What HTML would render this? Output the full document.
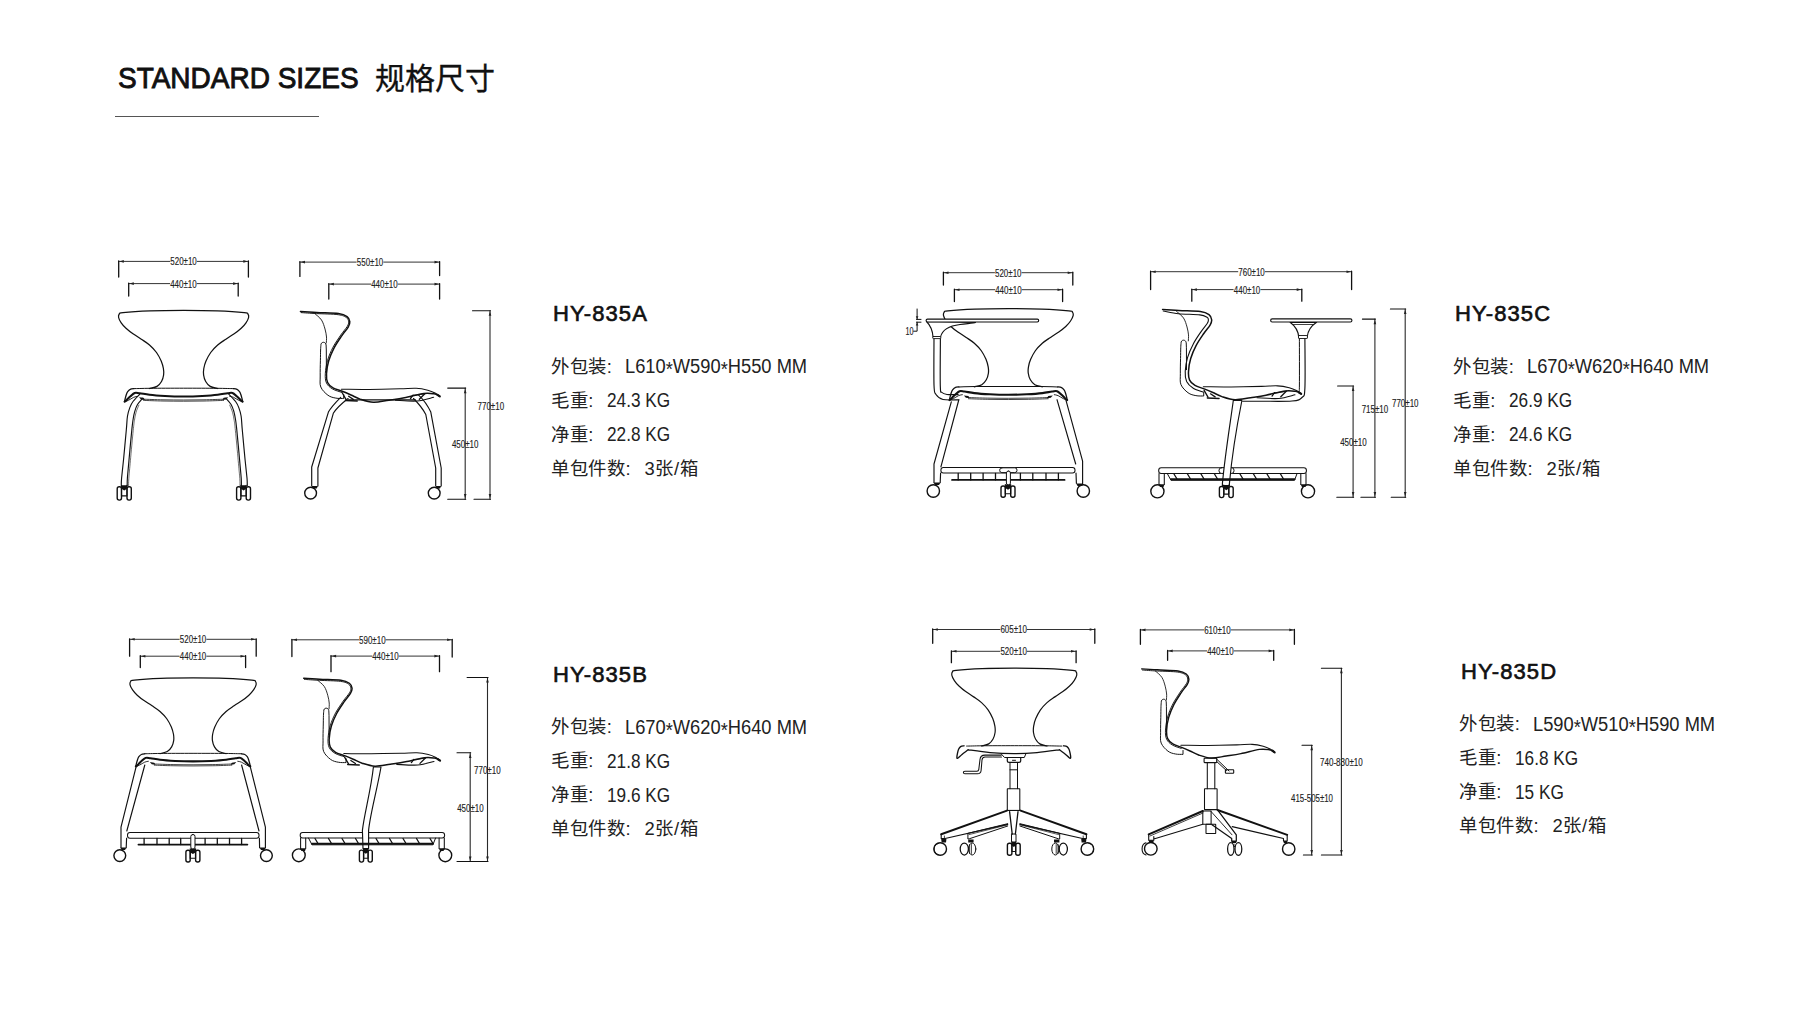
<!DOCTYPE html>
<html lang="zh-CN"><head><meta charset="utf-8">
<style>
html,body{margin:0;padding:0;background:#fff;}
body{width:1800px;height:1013px;position:relative;overflow:hidden;font-family:"Liberation Sans",sans-serif;color:#222;}
.t{position:absolute;white-space:nowrap;line-height:1;}
.blk{position:absolute;width:400px;height:200px;}
.blk .h{position:absolute;left:2px;top:1.2px;font-size:22px;color:#111;letter-spacing:1.1px;-webkit-text-stroke:0.65px #111}
.v{font-size:20px !important;letter-spacing:0 !important;margin-top:0 !important;transform:scaleX(0.915);transform-origin:0 0}
.kg{font-size:20px !important;letter-spacing:0 !important;margin-top:0 !important;transform:scaleX(0.86);transform-origin:0 0}
.ast{position:relative;top:3.2px}
.blk .l{position:absolute;left:0;font-size:18.4px;letter-spacing:0.6px;white-space:nowrap;line-height:1;margin-top:1.7px}
svg{position:absolute;left:0;top:0;}
.dt{font-family:"Liberation Sans",sans-serif;font-size:10.8px;fill:#222;stroke:#222;stroke-width:0.15px;}
</style></head><body>
<div class="t" style="left:118px;top:63.3px;font-size:29.6px;color:#111;-webkit-text-stroke:0.9px #111;transform:scaleX(0.946);transform-origin:0 0">STANDARD SIZES</div>
<div class="t" style="left:375px;top:64.3px;font-size:30px;color:#111;-webkit-text-stroke:0.3px #111">规格尺寸</div>
<div style="position:absolute;left:115px;top:116px;width:204px;height:1px;background:#555"></div>
<div class="blk" style="left:551px;top:300px">
<div class="h">HY-835A</div>
<div class="l" style="top:56.3px">外包装:</div><div class="l v" style="top:56px;left:74.4px">L610<span class="ast">*</span>W590<span class="ast">*</span>H550 MM</div>
<div class="l" style="top:90.3px">毛重:</div><div class="l kg" style="top:90px;left:56px">24.3 KG</div>
<div class="l" style="top:124.3px">净重:</div><div class="l kg" style="top:124px;left:56px">22.8 KG</div>
<div class="l" style="top:158.3px">单包件数:</div><div class="l " style="top:158.3px;left:93.5px">3张/箱</div>
</div>
<div class="blk" style="left:551px;top:660.5px">
<div class="h">HY-835B</div>
<div class="l" style="top:56.3px">外包装:</div><div class="l v" style="top:56px;left:74.4px">L670<span class="ast">*</span>W620<span class="ast">*</span>H640 MM</div>
<div class="l" style="top:90.3px">毛重:</div><div class="l kg" style="top:90px;left:56px">21.8 KG</div>
<div class="l" style="top:124.3px">净重:</div><div class="l kg" style="top:124px;left:56px">19.6 KG</div>
<div class="l" style="top:158.3px">单包件数:</div><div class="l " style="top:158.3px;left:93.5px">2张/箱</div>
</div>
<div class="blk" style="left:1453px;top:300px">
<div class="h">HY-835C</div>
<div class="l" style="top:56.3px">外包装:</div><div class="l v" style="top:56px;left:74.4px">L670<span class="ast">*</span>W620<span class="ast">*</span>H640 MM</div>
<div class="l" style="top:90.3px">毛重:</div><div class="l kg" style="top:90px;left:56px">26.9 KG</div>
<div class="l" style="top:124.3px">净重:</div><div class="l kg" style="top:124px;left:56px">24.6 KG</div>
<div class="l" style="top:158.3px">单包件数:</div><div class="l " style="top:158.3px;left:93.5px">2张/箱</div>
</div>
<div class="blk" style="left:1459px;top:657.5px">
<div class="h">HY-835D</div>
<div class="l" style="top:56.3px">外包装:</div><div class="l v" style="top:56px;left:74.4px">L590<span class="ast">*</span>W510<span class="ast">*</span>H590 MM</div>
<div class="l" style="top:90.3px">毛重:</div><div class="l kg" style="top:90px;left:56px">16.8 KG</div>
<div class="l" style="top:124.3px">净重:</div><div class="l kg" style="top:124px;left:56px">15 KG</div>
<div class="l" style="top:158.3px">单包件数:</div><div class="l " style="top:158.3px;left:93.5px">2张/箱</div>
</div>
<svg width="1800" height="1013" viewBox="0 0 1800 1013" fill="none" stroke="#111" stroke-linecap="round" stroke-linejoin="round">
<path d="M118.7 261.4L169.8 261.4M197.3 261.4L248.4 261.4" stroke-width="1" stroke="#333"/>
<path d="M118.7 260.9L118.7 277M248.4 260.9L248.4 277" stroke-width="1.3"/>
<path d="M119.3 261.4L123.8 260.1L123.8 262.7Z" fill="#222" stroke="none"/>
<path d="M247.8 261.4L243.3 262.7L243.3 260.1Z" fill="#222" stroke="none"/>
<text x="170.3" y="265.3" textLength="26.5" lengthAdjust="spacingAndGlyphs" class="dt">520±10</text>
<path d="M128.7 283.6L169.7 283.6M197.2 283.6L238.2 283.6" stroke-width="1" stroke="#333"/>
<path d="M128.7 283.1L128.7 296M238.2 283.1L238.2 296" stroke-width="1.3"/>
<path d="M129.3 283.6L133.8 282.3L133.8 284.9Z" fill="#222" stroke="none"/>
<path d="M237.6 283.6L233.1 284.9L233.1 282.3Z" fill="#222" stroke="none"/>
<text x="170.2" y="287.5" textLength="26.5" lengthAdjust="spacingAndGlyphs" class="dt">440±10</text>
<path d="M299.9 262.1L356.2 262.1M383.8 262.1L439.6 262.1" stroke-width="1" stroke="#333"/>
<path d="M299.9 261.6L299.9 276.4M439.6 261.6L439.6 275.5" stroke-width="1.3"/>
<path d="M300.5 262.1L305 260.8L305 263.4Z" fill="#222" stroke="none"/>
<path d="M439 262.1L434.5 263.4L434.5 260.8Z" fill="#222" stroke="none"/>
<text x="356.8" y="266" textLength="26.5" lengthAdjust="spacingAndGlyphs" class="dt">550±10</text>
<path d="M328.8 284.1L370.8 284.1M398.2 284.1L439.6 284.1" stroke-width="1" stroke="#333"/>
<path d="M328.8 283.6L328.8 299M439.6 283.6L439.6 299" stroke-width="1.3"/>
<path d="M329.4 284.1L333.9 282.8L333.9 285.4Z" fill="#222" stroke="none"/>
<path d="M439 284.1L434.5 285.4L434.5 282.8Z" fill="#222" stroke="none"/>
<text x="371.2" y="288" textLength="26.5" lengthAdjust="spacingAndGlyphs" class="dt">440±10</text>
<path d="M465.2 388.1L465.2 499.2" stroke-width="1.1" stroke="#2a2a2a"/>
<path d="M447.7 388.1L465.7 388.1M447.7 499.2L465.7 499.2" stroke-width="1.1"/>
<path d="M465.2 388.7L466.5 393.2L463.9 393.2Z" fill="#222" stroke="none"/>
<path d="M465.2 498.6L463.9 494.1L466.5 494.1Z" fill="#222" stroke="none"/>
<text x="451.9" y="448.3" textLength="26.5" lengthAdjust="spacingAndGlyphs" class="dt">450±10</text>
<path d="M490 310.7L490 499.2" stroke-width="1.1" stroke="#2a2a2a"/>
<path d="M472.5 310.7L490.5 310.7M474 499.2L490.5 499.2" stroke-width="1.1"/>
<path d="M490 311.3L491.3 315.8L488.7 315.8Z" fill="#222" stroke="none"/>
<path d="M490 498.6L488.7 494.1L491.3 494.1Z" fill="#222" stroke="none"/>
<text x="477.6" y="409.8" textLength="26.5" lengthAdjust="spacingAndGlyphs" class="dt">770±10</text>
<path d="M129.6 639.3L179.2 639.3M206.8 639.3L256.2 639.3" stroke-width="1" stroke="#333"/>
<path d="M129.6 638.8L129.6 656.2M256.2 638.8L256.2 656.2" stroke-width="1.3"/>
<path d="M130.2 639.3L134.7 638L134.7 640.6Z" fill="#222" stroke="none"/>
<path d="M255.6 639.3L251.1 640.6L251.1 638Z" fill="#222" stroke="none"/>
<text x="179.8" y="643.2" textLength="26.5" lengthAdjust="spacingAndGlyphs" class="dt">520±10</text>
<path d="M140.3 656.2L179.2 656.2M206.8 656.2L245.6 656.2" stroke-width="1" stroke="#333"/>
<path d="M140.3 655.7L140.3 667.6M245.6 655.7L245.6 667.6" stroke-width="1.3"/>
<path d="M140.9 656.2L145.4 654.9L145.4 657.5Z" fill="#222" stroke="none"/>
<path d="M245 656.2L240.5 657.5L240.5 654.9Z" fill="#222" stroke="none"/>
<text x="179.8" y="660.1" textLength="26.5" lengthAdjust="spacingAndGlyphs" class="dt">440±10</text>
<path d="M291.9 639.8L358.6 639.8M386.1 639.8L452.2 639.8" stroke-width="1" stroke="#333"/>
<path d="M291.9 639.3L291.9 656.5M452.2 639.3L452.2 657" stroke-width="1.3"/>
<path d="M292.5 639.8L297 638.5L297 641.1Z" fill="#222" stroke="none"/>
<path d="M451.6 639.8L447.1 641.1L447.1 638.5Z" fill="#222" stroke="none"/>
<text x="359.1" y="643.7" textLength="26.5" lengthAdjust="spacingAndGlyphs" class="dt">590±10</text>
<path d="M331 656.1L371.8 656.1M399.2 656.1L439.5 656.1" stroke-width="1" stroke="#333"/>
<path d="M331 655.6L331 671.7M439.5 655.6L439.5 671.7" stroke-width="1.3"/>
<path d="M331.6 656.1L336.1 654.8L336.1 657.4Z" fill="#222" stroke="none"/>
<path d="M438.9 656.1L434.4 657.4L434.4 654.8Z" fill="#222" stroke="none"/>
<text x="372.2" y="660" textLength="26.5" lengthAdjust="spacingAndGlyphs" class="dt">440±10</text>
<path d="M470.2 752.8L470.2 861.5" stroke-width="1.1" stroke="#2a2a2a"/>
<path d="M457 752.8L470.7 752.8M457 861.5L470.7 861.5" stroke-width="1.1"/>
<path d="M470.2 753.4L471.5 757.9L468.9 757.9Z" fill="#222" stroke="none"/>
<path d="M470.2 860.9L468.9 856.4L471.5 856.4Z" fill="#222" stroke="none"/>
<text x="457.2" y="811.5" textLength="26.5" lengthAdjust="spacingAndGlyphs" class="dt">450±10</text>
<path d="M487.5 677.5L487.5 861.5" stroke-width="1.1" stroke="#2a2a2a"/>
<path d="M467.1 677.5L488 677.5M470 861.5L488 861.5" stroke-width="1.1"/>
<path d="M487.5 678.1L488.8 682.6L486.2 682.6Z" fill="#222" stroke="none"/>
<path d="M487.5 860.9L486.2 856.4L488.8 856.4Z" fill="#222" stroke="none"/>
<text x="474.1" y="774.1" textLength="26.5" lengthAdjust="spacingAndGlyphs" class="dt">770±10</text>
<path d="M943.4 272.7L994.5 272.7M1022 272.7L1072.8 272.7" stroke-width="1" stroke="#333"/>
<path d="M943.4 272.2L943.4 285M1072.8 272.2L1072.8 285" stroke-width="1.3"/>
<path d="M944 272.7L948.5 271.4L948.5 274Z" fill="#222" stroke="none"/>
<path d="M1072.2 272.7L1067.7 274L1067.7 271.4Z" fill="#222" stroke="none"/>
<text x="995" y="276.6" textLength="26.5" lengthAdjust="spacingAndGlyphs" class="dt">520±10</text>
<path d="M954.4 289.7L994.8 289.7M1022.2 289.7L1062.6 289.7" stroke-width="1" stroke="#333"/>
<path d="M954.4 289.2L954.4 301.5M1062.6 289.2L1062.6 301.5" stroke-width="1.3"/>
<path d="M955 289.7L959.5 288.4L959.5 291Z" fill="#222" stroke="none"/>
<path d="M1062 289.7L1057.5 291L1057.5 288.4Z" fill="#222" stroke="none"/>
<text x="995.2" y="293.6" textLength="26.5" lengthAdjust="spacingAndGlyphs" class="dt">440±10</text>
<path d="M1150.6 271.7L1237.8 271.7M1265.3 271.7L1351.6 271.7" stroke-width="1" stroke="#333"/>
<path d="M1150.6 271.2L1150.6 289.6M1351.6 271.2L1351.6 289.6" stroke-width="1.3"/>
<path d="M1151.2 271.7L1155.7 270.4L1155.7 273Z" fill="#222" stroke="none"/>
<path d="M1351 271.7L1346.5 273L1346.5 270.4Z" fill="#222" stroke="none"/>
<text x="1238.3" y="275.6" textLength="26.5" lengthAdjust="spacingAndGlyphs" class="dt">760±10</text>
<path d="M1191.8 289.6L1233.2 289.6M1260.8 289.6L1301.8 289.6" stroke-width="1" stroke="#333"/>
<path d="M1191.8 289.1L1191.8 301.2M1301.8 289.1L1301.8 301.2" stroke-width="1.3"/>
<path d="M1192.4 289.6L1196.9 288.3L1196.9 290.9Z" fill="#222" stroke="none"/>
<path d="M1301.2 289.6L1296.7 290.9L1296.7 288.3Z" fill="#222" stroke="none"/>
<text x="1233.8" y="293.5" textLength="26.5" lengthAdjust="spacingAndGlyphs" class="dt">440±10</text>
<path d="M1353.1 386L1353.1 497.2" stroke-width="1.1" stroke="#2a2a2a"/>
<path d="M1337.6 386L1353.6 386M1336.8 497.2L1353.6 497.2" stroke-width="1.1"/>
<path d="M1353.1 386.6L1354.4 391.1L1351.8 391.1Z" fill="#222" stroke="none"/>
<path d="M1353.1 496.6L1351.8 492.1L1354.4 492.1Z" fill="#222" stroke="none"/>
<text x="1340.2" y="445.8" textLength="26.5" lengthAdjust="spacingAndGlyphs" class="dt">450±10</text>
<path d="M1374.9 319.1L1374.9 497.2" stroke-width="1.1" stroke="#2a2a2a"/>
<path d="M1362.4 319.1L1375.4 319.1M1360.9 497.2L1375.4 497.2" stroke-width="1.1"/>
<path d="M1374.9 319.7L1376.2 324.2L1373.6 324.2Z" fill="#222" stroke="none"/>
<path d="M1374.9 496.6L1373.6 492.1L1376.2 492.1Z" fill="#222" stroke="none"/>
<text x="1361.7" y="412.8" textLength="26.5" lengthAdjust="spacingAndGlyphs" class="dt">715±10</text>
<path d="M1405.2 309L1405.2 497.2" stroke-width="1.1" stroke="#2a2a2a"/>
<path d="M1390.4 309L1405.7 309M1391.2 497.2L1405.7 497.2" stroke-width="1.1"/>
<path d="M1405.2 309.6L1406.5 314.1L1403.9 314.1Z" fill="#222" stroke="none"/>
<path d="M1405.2 496.6L1403.9 492.1L1406.5 492.1Z" fill="#222" stroke="none"/>
<text x="1392" y="407.3" textLength="26.5" lengthAdjust="spacingAndGlyphs" class="dt">770±10</text>
<path d="M932.7 629.5L999.9 629.5M1027.3 629.5L1094.8 629.5" stroke-width="1" stroke="#333"/>
<path d="M932.7 629L932.7 643.3M1094.8 629L1094.8 643.3" stroke-width="1.3"/>
<path d="M933.3 629.5L937.8 628.2L937.8 630.8Z" fill="#222" stroke="none"/>
<path d="M1094.2 629.5L1089.7 630.8L1089.7 628.2Z" fill="#222" stroke="none"/>
<text x="1000.4" y="633.4" textLength="26.5" lengthAdjust="spacingAndGlyphs" class="dt">605±10</text>
<path d="M951.4 651.3L999.9 651.3M1027.3 651.3L1076.1 651.3" stroke-width="1" stroke="#333"/>
<path d="M951.4 650.8L951.4 662.7M1076.1 650.8L1076.1 662.7" stroke-width="1.3"/>
<path d="M952 651.3L956.5 650L956.5 652.6Z" fill="#222" stroke="none"/>
<path d="M1075.5 651.3L1071 652.6L1071 650Z" fill="#222" stroke="none"/>
<text x="1000.4" y="655.2" textLength="26.5" lengthAdjust="spacingAndGlyphs" class="dt">520±10</text>
<path d="M1140.4 629.9L1203.7 629.9M1231.2 629.9L1294.4 629.9" stroke-width="1" stroke="#333"/>
<path d="M1140.4 629.4L1140.4 644.3M1294.4 629.4L1294.4 644.3" stroke-width="1.3"/>
<path d="M1141 629.9L1145.5 628.6L1145.5 631.2Z" fill="#222" stroke="none"/>
<path d="M1293.8 629.9L1289.3 631.2L1289.3 628.6Z" fill="#222" stroke="none"/>
<text x="1204.2" y="633.8" textLength="26.5" lengthAdjust="spacingAndGlyphs" class="dt">610±10</text>
<path d="M1167.6 650.9L1206.7 650.9M1234.2 650.9L1273.7 650.9" stroke-width="1" stroke="#333"/>
<path d="M1167.6 650.4L1167.6 660.3M1273.7 650.4L1273.7 660.3" stroke-width="1.3"/>
<path d="M1168.2 650.9L1172.7 649.6L1172.7 652.2Z" fill="#222" stroke="none"/>
<path d="M1273.1 650.9L1268.6 652.2L1268.6 649.6Z" fill="#222" stroke="none"/>
<text x="1207.2" y="654.8" textLength="26.5" lengthAdjust="spacingAndGlyphs" class="dt">440±10</text>
<path d="M1311.7 745.2L1311.7 855" stroke-width="1.1" stroke="#2a2a2a"/>
<path d="M1302 745.2L1312.2 745.2M1303.4 855L1312.2 855" stroke-width="1.1"/>
<path d="M1311.7 745.8L1313 750.3L1310.4 750.3Z" fill="#222" stroke="none"/>
<path d="M1311.7 854.4L1310.4 849.9L1313 849.9Z" fill="#222" stroke="none"/>
<text x="1291" y="801.6" textLength="42" lengthAdjust="spacingAndGlyphs" class="dt">415-505±10</text>
<path d="M1341.4 668.2L1341.4 855" stroke-width="1.1" stroke="#2a2a2a"/>
<path d="M1321.4 668.2L1341.9 668.2M1321.4 855L1341.9 855" stroke-width="1.1"/>
<path d="M1341.4 668.8L1342.7 673.3L1340.1 673.3Z" fill="#222" stroke="none"/>
<path d="M1341.4 854.4L1340.1 849.9L1342.7 849.9Z" fill="#222" stroke="none"/>
<text x="1320" y="765.7" textLength="42.8" lengthAdjust="spacingAndGlyphs" class="dt">740-830±10</text>
<path d="M917.1 309L917.1 319.4M917.1 322.2L917.1 331.2L913.6 331.2M916.5 319.4L921 319.4M916.5 322.2L921 322.2" stroke-width="1"/>
<path d="M917.1 319.2L915.8 316.2L918.4 316.2Z" fill="#222" stroke="none"/>
<path d="M917.1 322.4L918.4 325.4L915.8 325.4Z" fill="#222" stroke="none"/>
<text x="905.5" y="335" textLength="8" lengthAdjust="spacingAndGlyphs" class="dt">10</text>
<path d="M149.5 388.5C150.8 388.1 155 387.6 157 386.4C159 385.2 160.4 383.4 161.5 381.5C162.6 379.6 163.3 377.2 163.6 375C163.9 372.8 163.8 370.8 163.4 368.5C163 366.2 162.3 363.7 161.2 361C160 358.3 158.4 355.2 156.5 352.5C154.6 349.8 152 347.2 149.5 345C147 342.8 144.1 341.1 141.3 339.2C138.6 337.3 135.6 335.6 133 333.8C130.4 332 128 330 126 328.2C124 326.4 122.4 324.6 121.2 322.8C120 321 118.9 319 118.6 317.5C118.3 316 118.6 314.8 119.3 314C120 313.2 117.9 313.1 123 312.6C128.1 312.1 139.9 311.3 150 310.9C160.1 310.5 172.4 310.4 183.6 310.4C194.8 310.4 207.1 310.5 217.2 310.9C227.3 311.3 239.1 312.1 244.2 312.6C249.3 313.1 247.2 313.2 247.9 314C248.6 314.8 248.9 316 248.6 317.5C248.3 319 247.2 321 246 322.8C244.8 324.6 243.2 326.4 241.2 328.2C239.2 330 236.8 332 234.2 333.8C231.6 335.6 228.6 337.3 225.9 339.2C223.1 341.1 220.2 342.8 217.7 345C215.2 347.2 212.6 349.8 210.7 352.5C208.8 355.2 207.2 358.3 206 361C204.8 363.7 204.2 366.2 203.8 368.5C203.4 370.8 203.3 372.8 203.6 375C203.9 377.2 204.6 379.6 205.7 381.5C206.8 383.4 208.2 385.2 210.2 386.4C212.2 387.6 216.4 388.1 217.7 388.5" stroke-width="1.25"/>
<path d="M134 388.6C136.7 388.6 141.7 388.4 150 388.3C158.3 388.2 172.4 388.2 183.6 388.2C194.8 388.2 208.7 388.2 217 388.3C225.3 388.4 230.5 388.6 233.2 388.6" stroke-width="1.0"/>
<path d="M134 388.6C133.4 388.7 131.2 388.9 130.2 389.4C129.1 389.9 128.4 390.7 127.7 391.6C127 392.5 126.6 393.8 126.2 395C125.8 396.2 125.4 397.8 125.1 398.9C124.8 400 124.7 401.2 124.6 401.7" stroke-width="1.3"/>
<path d="M233.2 388.6C233.8 388.7 235.9 388.9 237 389.4C238.1 389.9 238.8 390.7 239.5 391.6C240.2 392.5 240.6 393.8 241 395C241.4 396.2 241.8 397.8 242.1 398.9C242.4 400 242.5 401.2 242.6 401.7" stroke-width="1.3"/>
<path d="M124.6 401.7C125 401.4 126 400.5 127 399.6C128 398.7 129.2 397.3 130.5 396.2C131.8 395.1 133.2 393.4 134.7 392.9C136.2 392.4 137.2 392.9 139.7 393.2C142.2 393.5 145.3 394.3 149.5 394.8C153.7 395.3 159.3 395.7 165 396C170.7 396.3 177.4 396.5 183.6 396.5C189.8 396.5 196.5 396.3 202.2 396C207.9 395.7 213.5 395.3 217.7 394.8C221.9 394.3 225 393.5 227.5 393.2C230 392.9 231 392.4 232.5 392.9C234 393.4 235.4 395.1 236.7 396.2C238 397.3 239.2 398.7 240.2 399.6C241.2 400.5 242.2 401.4 242.6 401.7" stroke-width="2.1"/>
<path d="M125.6 401.4C126.1 401.2 127.2 401 128.5 400.3C129.8 399.6 132.2 398 133.7 397.3C135.2 396.6 136.9 396.5 137.5 396.4" stroke-width="0.9"/>
<path d="M241.6 401.4C241.1 401.2 240 401 238.7 400.3C237.3 399.6 235 398 233.5 397.3C232 396.6 230.3 396.5 229.7 396.4" stroke-width="0.9"/>
<path d="M143.6 399.2C146.8 399.3 156.3 399.7 163 399.8C169.7 399.9 176.8 400 183.6 400C190.4 400 197.3 399.9 204 399.8C210.7 399.7 220.3 399.3 223.6 399.2" stroke-width="0.8"/>
<path d="M143.6 400.4C146.8 400.5 156.3 400.9 163 401C169.7 401.1 176.8 401.2 183.6 401.2C190.4 401.2 197.3 401.1 204 401C210.7 400.9 220.3 400.5 223.6 400.4" stroke-width="0.8"/>
<path d="M139 397.2L143.5 397.8L145 400L141 399.5Z" fill="#111" stroke="none"/>
<path d="M228.2 397.2L223.7 397.8L222.2 400L226.2 399.5Z" fill="#111" stroke="none"/>
<path d="M300.4 311.4C303.1 311.6 310.4 312 316.7 312.4C323 312.8 333.3 312.8 338.4 313.5C343.5 314.2 345.2 315.2 347.1 316.6C349 318 349.6 319.9 349.8 321.7C350 323.4 349.6 324.8 348.2 327.1C346.8 329.5 344 332.4 341.7 335.8C339.4 339.2 336.3 343.6 334.1 347.8C331.9 352 330 356.5 328.7 360.8C327.4 365.1 326.7 370.2 326.5 373.8C326.3 377.4 326.5 380.1 327.6 382.5C328.7 384.9 330.6 386.4 333 387.9C335.4 389.4 339.2 390.1 342.2 391.3C345.2 392.5 348 393.7 351 395C354 396.3 356.4 397.9 360.1 399.1C363.8 400.3 368.5 402 373.3 402.2C378.1 402.4 383.7 400.9 388.9 400.2C394.1 399.4 398.6 398.8 404.4 397.7C410.2 396.6 419 394 423.9 393.4C428.8 392.8 431.4 393.4 434 393.8C436.6 394.2 438.5 395.6 439.4 396" stroke-width="1.5"/>
<path d="M301.2 312.6C303.8 312.8 310.5 313.3 316.6 313.6C322.8 313.9 333.3 314 338.2 314.7C343.2 315.4 344.7 316.4 346.4 317.6C348.1 318.8 348.5 320.3 348.6 321.8C348.7 323.3 348.5 324.3 347.2 326.5C345.8 328.7 343.1 331.7 340.7 335.1C338.4 338.6 335.2 343 333 347.2C330.8 351.5 328.8 356 327.5 360.5C326.3 364.9 325.5 370 325.3 373.7C325.1 377.5 325.3 380.5 326.5 383C327.7 385.5 329.8 387.4 332.4 388.9C334.9 390.5 340.2 391.8 341.8 392.4" stroke-width="0.95"/>
<path d="M341.4 389.2C346.1 389.2 359.6 389.5 369.4 389.4C379.2 389.3 392.2 389 400 388.8C407.8 388.6 411.5 388.1 416.1 388.3C420.7 388.5 424.7 389.4 427.8 390.2C430.9 391 433.1 392 435 393C436.9 394 438.7 395.5 439.4 396" stroke-width="1.05"/>
<path d="M437.5 394.8L439.8 396.4" stroke-width="2.2"/>
<path d="M314.5 313.4C315.7 314.5 319.8 317.4 321.5 320C323.2 322.6 324.2 326.2 325 329C325.8 331.8 326.3 334.7 326.5 337C326.7 339.3 326.3 342 326.3 343" stroke-width="0.9"/>
<path d="M326.4 372L326.3 350L326.1 345C325.9 343.3 324.8 342.3 323.4 342.3C321.8 342.3 320.7 343.6 320.9 345.6C320.8 346.3 320.7 347.5 320.6 350C320.5 352.5 320.5 356.5 320.4 360.8C320.3 365.1 320.1 371.6 320.2 376C320.3 380.4 319.5 383.8 320.8 387C322.1 390.2 325.4 393.3 327.9 395.2C330.4 397.1 333.2 397.6 335.8 398.1C338.4 398.7 342.4 398.4 343.7 398.5L343.7 394.5" stroke-width="1.0"/>
<path d="M342.2 392.8L346.1 399.6M348.6 396.3L353.3 399.4" stroke-width="1.3"/>
<path d="M345.4 400.4L357.2 400.9" stroke-width="1.5"/>
<path d="M410.5 398.5L413 395.1M424.8 393.7L419.3 399.3" stroke-width="1.3"/>
<path d="M395.5 400.3C399.1 400.4 410.6 401.5 417 401C423.4 400.5 430.8 397.9 433.6 397.3" stroke-width="1.1"/>
<path d="M413 395.4L424.8 393.9" stroke-width="0.9"/>
<path d="M348.4 399.9H415.3" stroke-width="1.4"/>
<path d="M139.7 394.3C138.6 395.5 134.7 399.3 133 401.5C131.3 403.7 130.7 405.2 129.8 407.6C128.9 410 128.1 412.3 127.5 416C126.9 419.7 127 422.7 126.3 430C125.6 437.3 124.3 452 123.5 460C122.7 468 122 473.8 121.6 478C121.2 482.2 121.3 484.2 121.3 485.5" stroke-width="1.15"/>
<path d="M228.9 394.3C230 395.5 233.9 399.3 235.6 401.5C237.2 403.7 237.9 405.2 238.8 407.6C239.7 410 240.5 412.3 241.1 416C241.7 419.7 241.6 422.7 242.3 430C243 437.3 244.3 452 245.1 460C245.9 468 246.6 473.8 247 478C247.4 482.2 247.2 484.2 247.3 485.5" stroke-width="1.15"/>
<path d="M142.6 398.3C141.8 399.3 138.8 402.3 137.5 404.5C136.2 406.7 135.4 409 134.7 411.6C133.9 414.2 133.5 416.9 133 420C132.5 423.1 132.5 423.3 131.8 430C131.1 436.7 129.7 452 129 460C128.3 468 127.7 473.8 127.4 478C127.1 482.2 127.2 484.2 127.2 485.5" stroke-width="1.15"/>
<path d="M226 398.3C226.8 399.3 229.8 402.3 231.1 404.5C232.4 406.7 233.1 409 233.9 411.6C234.6 414.2 235.1 416.9 235.6 420C236.1 423.1 236.1 423.3 236.8 430C237.5 436.7 238.9 452 239.6 460C240.3 468 240.9 473.8 241.2 478C241.5 482.2 241.4 484.2 241.4 485.5" stroke-width="1.15"/>
<path d="M138.9 405.1C138.4 406.3 136.8 409.6 136.1 412.2C135.3 414.8 134.9 417.5 134.4 420.6C133.9 423.7 133.9 423.9 133.2 430.6C132.5 437.3 131.1 452.6 130.4 460.6C129.7 468.6 129.1 474.4 128.8 478.6C128.5 482.9 128.6 484.9 128.6 486.1" stroke-width="0.6"/>
<path d="M229.7 405.1C230.2 406.3 231.7 409.6 232.5 412.2C233.2 414.8 233.7 417.5 234.2 420.6C234.7 423.7 234.7 423.9 235.4 430.6C236.1 437.3 237.5 452.6 238.2 460.6C238.9 468.6 239.5 474.4 239.8 478.6C240.1 482.9 240 484.9 240 486.1" stroke-width="0.6"/>
<rect x="117.2" y="486.7" width="4.3" height="13.4" rx="2" stroke-width="1.4"/>
<rect x="127" y="486.7" width="4.3" height="13.4" rx="2" stroke-width="1.4"/>
<path d="M121.5 485.2V495.9H127V485.2" stroke-width="1.1"/>
<path d="M121.5 485.2H127V488.8L124.2 490.4L121.5 488.8Z" fill="#111" stroke="none"/>
<rect x="236.6" y="486.7" width="4.3" height="13.4" rx="2" stroke-width="1.4"/>
<rect x="246.2" y="486.7" width="4.3" height="13.4" rx="2" stroke-width="1.4"/>
<path d="M240.9 485.2V495.9H246.2V485.2" stroke-width="1.1"/>
<path d="M240.9 485.2H246.2V488.8L243.6 490.4L240.9 488.8Z" fill="#111" stroke="none"/>
<path d="M340.7 397.3C335 403 331 407 328.4 412.1L311.7 467Q311.7 469 311.7 472V486" stroke-width="1.15"/>
<path d="M348.1 398.5C341 404 336 409 333.3 413.3L317.9 468Q317.9 470 317.9 473V486" stroke-width="1.15"/>
<path d="M418.4 394.8C424 400 428 406 430.8 412.1L441.2 468V486" stroke-width="1.15"/>
<path d="M413.5 398.5C419 404 423 409 425.8 414.5L435.7 468V486" stroke-width="1.15"/>
<circle cx="310.6" cy="493.1" r="5.9" stroke-width="1.4"/>
<path d="M311.7 486H317.9L316.7 488.5H312.9Z" fill="#111" stroke="none"/>
<circle cx="434.2" cy="493.1" r="5.9" stroke-width="1.4"/>
<path d="M435.7 486H441.2L440 488.5H436.9Z" fill="#111" stroke="none"/>
<g transform="matrix(0.9693 0 0 0.9692 15.1 377.1)"><path d="M149.5 388.5C150.8 388.1 155 387.6 157 386.4C159 385.2 160.4 383.4 161.5 381.5C162.6 379.6 163.3 377.2 163.6 375C163.9 372.8 163.8 370.8 163.4 368.5C163 366.2 162.3 363.7 161.2 361C160 358.3 158.4 355.2 156.5 352.5C154.6 349.8 152 347.2 149.5 345C147 342.8 144.1 341.1 141.3 339.2C138.6 337.3 135.6 335.6 133 333.8C130.4 332 128 330 126 328.2C124 326.4 122.4 324.6 121.2 322.8C120 321 118.9 319 118.6 317.5C118.3 316 118.6 314.8 119.3 314C120 313.2 117.9 313.1 123 312.6C128.1 312.1 139.9 311.3 150 310.9C160.1 310.5 172.4 310.4 183.6 310.4C194.8 310.4 207.1 310.5 217.2 310.9C227.3 311.3 239.1 312.1 244.2 312.6C249.3 313.1 247.2 313.2 247.9 314C248.6 314.8 248.9 316 248.6 317.5C248.3 319 247.2 321 246 322.8C244.8 324.6 243.2 326.4 241.2 328.2C239.2 330 236.8 332 234.2 333.8C231.6 335.6 228.6 337.3 225.9 339.2C223.1 341.1 220.2 342.8 217.7 345C215.2 347.2 212.6 349.8 210.7 352.5C208.8 355.2 207.2 358.3 206 361C204.8 363.7 204.2 366.2 203.8 368.5C203.4 370.8 203.3 372.8 203.6 375C203.9 377.2 204.6 379.6 205.7 381.5C206.8 383.4 208.2 385.2 210.2 386.4C212.2 387.6 216.4 388.1 217.7 388.5" stroke-width="1.25"/>
<path d="M134 388.6C136.7 388.6 141.7 388.4 150 388.3C158.3 388.2 172.4 388.2 183.6 388.2C194.8 388.2 208.7 388.2 217 388.3C225.3 388.4 230.5 388.6 233.2 388.6" stroke-width="1.0"/>
<path d="M134 388.6C133.4 388.7 131.2 388.9 130.2 389.4C129.1 389.9 128.4 390.7 127.7 391.6C127 392.5 126.6 393.8 126.2 395C125.8 396.2 125.4 397.8 125.1 398.9C124.8 400 124.7 401.2 124.6 401.7" stroke-width="1.3"/>
<path d="M233.2 388.6C233.8 388.7 235.9 388.9 237 389.4C238.1 389.9 238.8 390.7 239.5 391.6C240.2 392.5 240.6 393.8 241 395C241.4 396.2 241.8 397.8 242.1 398.9C242.4 400 242.5 401.2 242.6 401.7" stroke-width="1.3"/>
<path d="M124.6 401.7C125 401.4 126 400.5 127 399.6C128 398.7 129.2 397.3 130.5 396.2C131.8 395.1 133.2 393.4 134.7 392.9C136.2 392.4 137.2 392.9 139.7 393.2C142.2 393.5 145.3 394.3 149.5 394.8C153.7 395.3 159.3 395.7 165 396C170.7 396.3 177.4 396.5 183.6 396.5C189.8 396.5 196.5 396.3 202.2 396C207.9 395.7 213.5 395.3 217.7 394.8C221.9 394.3 225 393.5 227.5 393.2C230 392.9 231 392.4 232.5 392.9C234 393.4 235.4 395.1 236.7 396.2C238 397.3 239.2 398.7 240.2 399.6C241.2 400.5 242.2 401.4 242.6 401.7" stroke-width="2.1"/>
<path d="M125.6 401.4C126.1 401.2 127.2 401 128.5 400.3C129.8 399.6 132.2 398 133.7 397.3C135.2 396.6 136.9 396.5 137.5 396.4" stroke-width="0.9"/>
<path d="M241.6 401.4C241.1 401.2 240 401 238.7 400.3C237.3 399.6 235 398 233.5 397.3C232 396.6 230.3 396.5 229.7 396.4" stroke-width="0.9"/>
<path d="M143.6 399.2C146.8 399.3 156.3 399.7 163 399.8C169.7 399.9 176.8 400 183.6 400C190.4 400 197.3 399.9 204 399.8C210.7 399.7 220.3 399.3 223.6 399.2" stroke-width="0.8"/>
<path d="M143.6 400.4C146.8 400.5 156.3 400.9 163 401C169.7 401.1 176.8 401.2 183.6 401.2C190.4 401.2 197.3 401.1 204 401C210.7 400.9 220.3 400.5 223.6 400.4" stroke-width="0.8"/>
<path d="M139 397.2L143.5 397.8L145 400L141 399.5Z" fill="#111" stroke="none"/>
<path d="M228.2 397.2L223.7 397.8L222.2 400L226.2 399.5Z" fill="#111" stroke="none"/></g>
<g transform="matrix(0.9783 0 0 0.9689 9.8 376.5)"><path d="M300.4 311.4C303.1 311.6 310.4 312 316.7 312.4C323 312.8 333.3 312.8 338.4 313.5C343.5 314.2 345.2 315.2 347.1 316.6C349 318 349.6 319.9 349.8 321.7C350 323.4 349.6 324.8 348.2 327.1C346.8 329.5 344 332.4 341.7 335.8C339.4 339.2 336.3 343.6 334.1 347.8C331.9 352 330 356.5 328.7 360.8C327.4 365.1 326.7 370.2 326.5 373.8C326.3 377.4 326.5 380.1 327.6 382.5C328.7 384.9 330.6 386.4 333 387.9C335.4 389.4 339.2 390.1 342.2 391.3C345.2 392.5 348 393.7 351 395C354 396.3 356.4 397.9 360.1 399.1C363.8 400.3 368.5 402 373.3 402.2C378.1 402.4 383.7 400.9 388.9 400.2C394.1 399.4 398.6 398.8 404.4 397.7C410.2 396.6 419 394 423.9 393.4C428.8 392.8 431.4 393.4 434 393.8C436.6 394.2 438.5 395.6 439.4 396" stroke-width="1.5"/>
<path d="M301.2 312.6C303.8 312.8 310.5 313.3 316.6 313.6C322.8 313.9 333.3 314 338.2 314.7C343.2 315.4 344.7 316.4 346.4 317.6C348.1 318.8 348.5 320.3 348.6 321.8C348.7 323.3 348.5 324.3 347.2 326.5C345.8 328.7 343.1 331.7 340.7 335.1C338.4 338.6 335.2 343 333 347.2C330.8 351.5 328.8 356 327.5 360.5C326.3 364.9 325.5 370 325.3 373.7C325.1 377.5 325.3 380.5 326.5 383C327.7 385.5 329.8 387.4 332.4 388.9C334.9 390.5 340.2 391.8 341.8 392.4" stroke-width="0.95"/>
<path d="M341.4 389.2C346.1 389.2 359.6 389.5 369.4 389.4C379.2 389.3 392.2 389 400 388.8C407.8 388.6 411.5 388.1 416.1 388.3C420.7 388.5 424.7 389.4 427.8 390.2C430.9 391 433.1 392 435 393C436.9 394 438.7 395.5 439.4 396" stroke-width="1.05"/>
<path d="M437.5 394.8L439.8 396.4" stroke-width="2.2"/>
<path d="M314.5 313.4C315.7 314.5 319.8 317.4 321.5 320C323.2 322.6 324.2 326.2 325 329C325.8 331.8 326.3 334.7 326.5 337C326.7 339.3 326.3 342 326.3 343" stroke-width="0.9"/>
<path d="M326.4 372L326.3 350L326.1 345C325.9 343.3 324.8 342.3 323.4 342.3C321.8 342.3 320.7 343.6 320.9 345.6C320.8 346.3 320.7 347.5 320.6 350C320.5 352.5 320.5 356.5 320.4 360.8C320.3 365.1 320.1 371.6 320.2 376C320.3 380.4 319.5 383.8 320.8 387C322.1 390.2 325.4 393.3 327.9 395.2C330.4 397.1 333.2 397.6 335.8 398.1C338.4 398.7 342.4 398.4 343.7 398.5L343.7 394.5" stroke-width="1.0"/>
<path d="M342.2 392.8L346.1 399.6M348.6 396.3L353.3 399.4" stroke-width="1.3"/>
<path d="M345.4 400.4L357.2 400.9" stroke-width="1.5"/>
<path d="M410.5 398.5L413 395.1M424.8 393.7L419.3 399.3" stroke-width="1.3"/>
<path d="M395.5 400.3C399.1 400.4 410.6 401.5 417 401C423.4 400.5 430.8 397.9 433.6 397.3" stroke-width="1.1"/>
<path d="M413 395.4L424.8 393.9" stroke-width="0.9"/></g>
<path d="M136.4 765.7 L121 827.2 L121 847.8" stroke-width="1.15"/>
<path d="M144.8 765 L126.8 831" stroke-width="1.15"/>
<path d="M126.6 838.2 L126.2 847.8" stroke-width="1.15"/>
<path d="M250 765.7 L265.4 827.2 L265.4 847.8" stroke-width="1.15"/>
<path d="M241.6 765 L259 831" stroke-width="1.15"/>
<path d="M259.4 838.2 L259.6 847.8" stroke-width="1.15"/>
<path d="M120.5 847.6H126.5L125 850H121.5Z" fill="#111" stroke="none"/>
<path d="M259.5 847.6H265.8L264.5 850H261Z" fill="#111" stroke="none"/>
<circle cx="119.8" cy="855.6" r="5.9" stroke-width="1.4"/>
<circle cx="266.4" cy="855.6" r="5.9" stroke-width="1.4"/>
<rect x="127.5" y="832.4" width="131.5" height="5.8" rx="2.5" stroke-width="1.05"/>
<path d="M138.4 844.6H247.4" stroke-width="1.7"/>
<path d="M144.1 838.5V844.6M157 838.5V844.6M169.2 838.5V844.6M180.7 838.5V844.6M205.1 838.5V844.6M217.3 838.5V844.6M229.5 838.5V844.6M241.6 838.5V844.6" stroke-width="1.3"/>
<rect x="190.8" y="834.5" width="4.2" height="14.5" rx="2" stroke-width="1.0" fill="#fff"/>
<rect x="185.9" y="850.3" width="4.3" height="11.7" rx="2" stroke-width="1.4"/>
<rect x="195.6" y="850.3" width="4.3" height="11.7" rx="2" stroke-width="1.4"/>
<path d="M190.2 848.8V858.3H195.6V848.8" stroke-width="1.1"/>
<path d="M190.2 848.8H195.6V852.4L192.9 854L190.2 852.4Z" fill="#111" stroke="none"/>
<rect x="300.2" y="832.4" width="144.4" height="5.6" rx="2.5" stroke-width="1.05"/>
<path d="M373.4 767C371 790 364 815 362.4 830.4L363 848.5H368.6L368.6 830.4C370 815 377 790 381 767Z" fill="#fff" stroke-width="1.15"/>
<path d="M300.6 838V848.5M305.7 838V848.5M439.1 838V848.5M444.3 838V848.5" stroke-width="1.05"/>
<path d="M300 848.3H306L305 851H301.5Z" fill="#111" stroke="none"/>
<path d="M438.8 848.3H444.8L443.5 851H440Z" fill="#111" stroke="none"/>
<circle cx="298.8" cy="855.3" r="6.4" stroke-width="1.4"/>
<circle cx="445.3" cy="855.3" r="6.4" stroke-width="1.4"/>
<rect x="359.4" y="850.1" width="4.2" height="12" rx="2" stroke-width="1.4"/>
<rect x="368.1" y="850.1" width="4.2" height="12" rx="2" stroke-width="1.4"/>
<path d="M363.6 848.6V858.3H368.1V848.6" stroke-width="1.1"/>
<path d="M363.6 848.6H368.1V852.2L365.8 853.8L363.6 852.2Z" fill="#111" stroke="none"/>
<path d="M308.5 838L312 844.8H432.9L435.6 838" stroke-width="1.0"/>
<path d="M312 843.8H433" stroke-width="2.0"/>
<path d="M315 838.5L318 843.5M328.5 838.5L331.5 843.5M342 838.5L345 843.5M355.5 838.5L358.5 843.5M376 838.5L379 843.5M389.5 838.5L392.5 843.5M403 838.5L406 843.5M416.5 838.5L419.5 843.5M430 838.5L433 843.5" stroke-width="1.3"/>
<g transform="matrix(0.9969 0 0 1.0013 825.3 -2.2)"><path d="M149.5 388.5C150.8 388.1 155 387.6 157 386.4C159 385.2 160.4 383.4 161.5 381.5C162.6 379.6 163.3 377.2 163.6 375C163.9 372.8 163.8 370.8 163.4 368.5C163 366.2 162.3 363.7 161.2 361C160 358.3 158.4 355.2 156.5 352.5C154.6 349.8 152 347.2 149.5 345C147 342.8 144.1 341.1 141.3 339.2C138.6 337.3 135.6 335.6 133 333.8C130.4 332 128 330 126 328.2C124 326.4 122.4 324.6 121.2 322.8C120 321 118.9 319 118.6 317.5C118.3 316 118.6 314.8 119.3 314C120 313.2 117.9 313.1 123 312.6C128.1 312.1 139.9 311.3 150 310.9C160.1 310.5 172.4 310.4 183.6 310.4C194.8 310.4 207.1 310.5 217.2 310.9C227.3 311.3 239.1 312.1 244.2 312.6C249.3 313.1 247.2 313.2 247.9 314C248.6 314.8 248.9 316 248.6 317.5C248.3 319 247.2 321 246 322.8C244.8 324.6 243.2 326.4 241.2 328.2C239.2 330 236.8 332 234.2 333.8C231.6 335.6 228.6 337.3 225.9 339.2C223.1 341.1 220.2 342.8 217.7 345C215.2 347.2 212.6 349.8 210.7 352.5C208.8 355.2 207.2 358.3 206 361C204.8 363.7 204.2 366.2 203.8 368.5C203.4 370.8 203.3 372.8 203.6 375C203.9 377.2 204.6 379.6 205.7 381.5C206.8 383.4 208.2 385.2 210.2 386.4C212.2 387.6 216.4 388.1 217.7 388.5" stroke-width="1.25"/>
<path d="M134 388.6C136.7 388.6 141.7 388.4 150 388.3C158.3 388.2 172.4 388.2 183.6 388.2C194.8 388.2 208.7 388.2 217 388.3C225.3 388.4 230.5 388.6 233.2 388.6" stroke-width="1.0"/>
<path d="M134 388.6C133.4 388.7 131.2 388.9 130.2 389.4C129.1 389.9 128.4 390.7 127.7 391.6C127 392.5 126.6 393.8 126.2 395C125.8 396.2 125.4 397.8 125.1 398.9C124.8 400 124.7 401.2 124.6 401.7" stroke-width="1.3"/>
<path d="M233.2 388.6C233.8 388.7 235.9 388.9 237 389.4C238.1 389.9 238.8 390.7 239.5 391.6C240.2 392.5 240.6 393.8 241 395C241.4 396.2 241.8 397.8 242.1 398.9C242.4 400 242.5 401.2 242.6 401.7" stroke-width="1.3"/>
<path d="M124.6 401.7C125 401.4 126 400.5 127 399.6C128 398.7 129.2 397.3 130.5 396.2C131.8 395.1 133.2 393.4 134.7 392.9C136.2 392.4 137.2 392.9 139.7 393.2C142.2 393.5 145.3 394.3 149.5 394.8C153.7 395.3 159.3 395.7 165 396C170.7 396.3 177.4 396.5 183.6 396.5C189.8 396.5 196.5 396.3 202.2 396C207.9 395.7 213.5 395.3 217.7 394.8C221.9 394.3 225 393.5 227.5 393.2C230 392.9 231 392.4 232.5 392.9C234 393.4 235.4 395.1 236.7 396.2C238 397.3 239.2 398.7 240.2 399.6C241.2 400.5 242.2 401.4 242.6 401.7" stroke-width="2.1"/>
<path d="M125.6 401.4C126.1 401.2 127.2 401 128.5 400.3C129.8 399.6 132.2 398 133.7 397.3C135.2 396.6 136.9 396.5 137.5 396.4" stroke-width="0.9"/>
<path d="M241.6 401.4C241.1 401.2 240 401 238.7 400.3C237.3 399.6 235 398 233.5 397.3C232 396.6 230.3 396.5 229.7 396.4" stroke-width="0.9"/>
<path d="M143.6 399.2C146.8 399.3 156.3 399.7 163 399.8C169.7 399.9 176.8 400 183.6 400C190.4 400 197.3 399.9 204 399.8C210.7 399.7 220.3 399.3 223.6 399.2" stroke-width="0.8"/>
<path d="M143.6 400.4C146.8 400.5 156.3 400.9 163 401C169.7 401.1 176.8 401.2 183.6 401.2C190.4 401.2 197.3 401.1 204 401C210.7 400.9 220.3 400.5 223.6 400.4" stroke-width="0.8"/>
<path d="M139 397.2L143.5 397.8L145 400L141 399.5Z" fill="#111" stroke="none"/>
<path d="M228.2 397.2L223.7 397.8L222.2 400L226.2 399.5Z" fill="#111" stroke="none"/></g>
<g transform="matrix(0.9942 0 0 0.9935 863.9 0.1)"><path d="M300.4 311.4C303.1 311.6 310.4 312 316.7 312.4C323 312.8 333.3 312.8 338.4 313.5C343.5 314.2 345.2 315.2 347.1 316.6C349 318 349.6 319.9 349.8 321.7C350 323.4 349.6 324.8 348.2 327.1C346.8 329.5 344 332.4 341.7 335.8C339.4 339.2 336.3 343.6 334.1 347.8C331.9 352 330 356.5 328.7 360.8C327.4 365.1 326.7 370.2 326.5 373.8C326.3 377.4 326.5 380.1 327.6 382.5C328.7 384.9 330.6 386.4 333 387.9C335.4 389.4 339.2 390.1 342.2 391.3C345.2 392.5 348 393.7 351 395C354 396.3 356.4 397.9 360.1 399.1C363.8 400.3 368.5 402 373.3 402.2C378.1 402.4 383.7 400.9 388.9 400.2C394.1 399.4 398.6 398.8 404.4 397.7C410.2 396.6 419 394 423.9 393.4C428.8 392.8 431.4 393.4 434 393.8C436.6 394.2 438.5 395.6 439.4 396" stroke-width="1.5"/>
<path d="M301.2 313C303.8 313.4 310.4 315.1 316.5 315.7C322.6 316.3 333.2 316.2 337.9 316.8C342.7 317.4 343.7 318.4 345.2 319.3C346.6 320.2 346.5 321 346.5 322C346.5 323.1 346.6 323.5 345.3 325.5C344.1 327.4 341.3 330.5 339 333.9C336.6 337.4 333.4 342 331.2 346.3C328.9 350.6 326.9 355.3 325.5 359.9C324.2 364.4 323.4 369.6 323.2 373.6C323 377.6 323.3 381 324.6 383.9C326 386.7 328.6 389 331.3 390.7C334 392.5 339.4 393.8 341.1 394.4" stroke-width="1.1"/>
<path d="M341.4 389.2C346.1 389.2 359.6 389.5 369.4 389.4C379.2 389.3 392.2 389 400 388.8C407.8 388.6 411.5 388.1 416.1 388.3C420.7 388.5 424.7 389.4 427.8 390.2C430.9 391 433.1 392 435 393C436.9 394 438.7 395.5 439.4 396" stroke-width="1.05"/>
<path d="M437.5 394.8L439.8 396.4" stroke-width="2.2"/>
<path d="M314.5 313.4C315.7 314.5 319.8 317.4 321.5 320C323.2 322.6 324.2 326.2 325 329C325.8 331.8 326.3 334.7 326.5 337C326.7 339.3 326.3 342 326.3 343" stroke-width="0.9"/>
<g transform="translate(-1.9 0)"><path d="M326.4 372L326.3 350L326.1 345C325.9 343.3 324.8 342.3 323.4 342.3C321.8 342.3 320.7 343.6 320.9 345.6C320.8 346.3 320.7 347.5 320.6 350C320.5 352.5 320.5 356.5 320.4 360.8C320.3 365.1 320.1 371.6 320.2 376C320.3 380.4 319.5 383.8 320.8 387C322.1 390.2 325.4 393.3 327.9 395.2C330.4 397.1 333.2 397.6 335.8 398.1C338.4 398.7 342.4 398.4 343.7 398.5L343.7 394.5" stroke-width="1.0"/></g>
<path d="M342.2 392.8L346.1 399.6M348.6 396.3L353.3 399.4" stroke-width="1.3"/>
<path d="M345.4 400.4L357.2 400.9" stroke-width="1.5"/>
<path d="M410.5 398.5L413 395.1M424.8 393.7L419.3 399.3" stroke-width="1.3"/>
<path d="M395.5 400.3C399.1 400.4 410.6 401.5 417 401C423.4 400.5 430.8 397.9 433.6 397.3" stroke-width="1.1"/>
<path d="M413 395.4L424.8 393.9" stroke-width="0.9"/></g>
<path d="M951.3 401.8 L934 464 L934 482.6" stroke-width="1.15"/>
<path d="M958.9 399.5 L940.9 466.8" stroke-width="1.15"/>
<path d="M940.6 473 L940.2 482.6" stroke-width="1.15"/>
<path d="M1066 400.4 L1082.6 461.2 L1082.6 484.7" stroke-width="1.15"/>
<path d="M1057 399.7 L1075.7 464" stroke-width="1.15"/>
<path d="M1076 473 L1076.4 483.3" stroke-width="1.15"/>
<path d="M933.5 482.6H940.5L939 485H935Z" fill="#111" stroke="none"/>
<path d="M1076.2 483.5H1083L1081.5 486H1077.5Z" fill="#111" stroke="none"/>
<circle cx="933.3" cy="491" r="6.2" stroke-width="1.4"/>
<circle cx="1083.3" cy="491" r="6.2" stroke-width="1.4"/>
<rect x="940.9" y="467.4" width="134.1" height="5.6" rx="2.5" stroke-width="1.05"/>
<rect x="999.7" y="467.8" width="17.3" height="4.8" rx="2.2" stroke-width="1.0" fill="#fff"/>
<path d="M952 479.9H1064.6" stroke-width="1.7"/>
<path d="M958.2 473.3V479.9M970.7 473.3V479.9M983.1 473.3V479.9M995.5 473.3V479.9M1020.4 473.3V479.9M1032.8 473.3V479.9M1046 473.3V479.9M1058.4 473.3V479.9" stroke-width="1.3"/>
<rect x="1006.4" y="471" width="4" height="14" rx="2" stroke-width="1.0" fill="#fff"/>
<rect x="1001" y="486" width="4.3" height="11.3" rx="2" stroke-width="1.4"/>
<rect x="1010.7" y="486" width="4.3" height="11.3" rx="2" stroke-width="1.4"/>
<path d="M1005.3 484.5V493.7H1010.7V484.5" stroke-width="1.1"/>
<path d="M1005.3 484.5H1010.7V488.1L1008 489.7L1005.3 488.1Z" fill="#111" stroke="none"/>
<path d="M934 337C934 345 933.7 375.4 934 385C934.3 394.6 934.5 392.1 936 394.5C937.5 396.9 939.3 398.6 943 399.5C946.7 400.4 955.7 399.8 958.2 399.8" stroke-width="1.15"/>
<path d="M940.4 337C940.4 345.2 940 376.8 940.3 386C940.6 395.2 940.9 391.1 942 392.5C943.1 393.9 944.3 394.1 947 394.5C949.7 394.9 956.3 394.6 958.2 394.6" stroke-width="1.15"/>
<path d="M926.5 321.5C930 325 932.5 330 933 336.8L940.6 336.8C942 331 948 326 960 324.5C968 323.5 974 323.2 975.5 322.5Z" fill="#fff" stroke-width="1.15"/>
<rect x="932.8" y="336.5" width="8" height="2.1" rx="0.5" stroke-width="0.9" fill="#fff"/>
<rect x="926.1" y="319.1" width="112.6" height="2.9" rx="1.4" stroke-width="1.15" fill="#fff"/>
<rect x="1158.7" y="467.7" width="147.7" height="5.7" rx="2.5" stroke-width="1.05"/>
<rect x="1219" y="467.7" width="15" height="5.7" rx="2.5" stroke-width="1.0" fill="#fff"/>
<path d="M1233.3 400.5C1230 425 1225 455 1222.4 483.6V485.5H1229.4V483.6C1232 455 1237 425 1241.9 400.5Z" fill="#fff" stroke-width="1.15"/>
<path d="M1159 473.4V484.5M1164.3 473.4V484.5M1300.8 473.4V484.5M1306 473.4V484.5" stroke-width="1.05"/>
<path d="M1158.5 484.3H1164.5L1163.5 487H1160Z" fill="#111" stroke="none"/>
<path d="M1300.5 484.3H1306.5L1305.5 487H1302Z" fill="#111" stroke="none"/>
<circle cx="1157.4" cy="491.3" r="6.6" stroke-width="1.4"/>
<circle cx="1308" cy="491.3" r="6.6" stroke-width="1.4"/>
<rect x="1219.4" y="486.5" width="4.4" height="11.1" rx="2" stroke-width="1.4"/>
<rect x="1228.8" y="486.5" width="4.4" height="11.1" rx="2" stroke-width="1.4"/>
<path d="M1223.8 485V494.1H1228.8V485" stroke-width="1.1"/>
<path d="M1223.8 485H1228.8V488.6L1226.3 490.2L1223.8 488.6Z" fill="#111" stroke="none"/>
<path d="M1167.2 473.4L1171 480.3H1294.5L1297.1 473.4" stroke-width="1.0"/>
<path d="M1171 479.3H1294.5" stroke-width="2.0"/>
<path d="M1174 474L1177 479M1187.5 474L1190.5 479M1201 474L1204 479M1214.5 474L1217.5 479M1240 474L1243 479M1253.5 474L1256.5 479M1267 474L1270 479M1280.5 474L1283.5 479" stroke-width="1.3"/>
<path d="M1304.9 338C1304.9 346.3 1305.4 378.1 1304.9 388C1304.4 397.9 1304.2 395.3 1302 397.5C1299.8 399.7 1299 400.4 1292 401C1285 401.6 1268.2 401.2 1260 401.2C1251.8 401.2 1245.6 401.2 1242.7 401.2" stroke-width="1.15"/>
<path d="M1299.4 338C1299.4 346 1299.5 377 1299.4 386C1299.3 395 1298.9 391 1298.8 392" stroke-width="1.0"/>
<path d="M1290.1 322.3C1295 326 1298.3 331 1298.7 337L1307.2 337C1307.7 331 1311 326 1316.6 322.3Z" fill="#fff" stroke-width="1.15"/>
<path d="M1293 324.5H1313.5" stroke-width="0.8"/>
<rect x="1298.5" y="335.5" width="8.9" height="3" rx="0.5" stroke-width="0.9" fill="#fff"/>
<rect x="1270.7" y="318.8" width="81.2" height="3.2" rx="1.5" stroke-width="1.15" fill="#fff"/>
<g transform="matrix(0.9601 0 0 0.9961 838 359)"><path d="M149.5 388.5C150.8 388.1 155 387.6 157 386.4C159 385.2 160.4 383.4 161.5 381.5C162.6 379.6 163.3 377.2 163.6 375C163.9 372.8 163.8 370.8 163.4 368.5C163 366.2 162.3 363.7 161.2 361C160 358.3 158.4 355.2 156.5 352.5C154.6 349.8 152 347.2 149.5 345C147 342.8 144.1 341.1 141.3 339.2C138.6 337.3 135.6 335.6 133 333.8C130.4 332 128 330 126 328.2C124 326.4 122.4 324.6 121.2 322.8C120 321 118.9 319 118.6 317.5C118.3 316 118.6 314.8 119.3 314C120 313.2 117.9 313.1 123 312.6C128.1 312.1 139.9 311.3 150 310.9C160.1 310.5 172.4 310.4 183.6 310.4C194.8 310.4 207.1 310.5 217.2 310.9C227.3 311.3 239.1 312.1 244.2 312.6C249.3 313.1 247.2 313.2 247.9 314C248.6 314.8 248.9 316 248.6 317.5C248.3 319 247.2 321 246 322.8C244.8 324.6 243.2 326.4 241.2 328.2C239.2 330 236.8 332 234.2 333.8C231.6 335.6 228.6 337.3 225.9 339.2C223.1 341.1 220.2 342.8 217.7 345C215.2 347.2 212.6 349.8 210.7 352.5C208.8 355.2 207.2 358.3 206 361C204.8 363.7 204.2 366.2 203.8 368.5C203.4 370.8 203.3 372.8 203.6 375C203.9 377.2 204.6 379.6 205.7 381.5C206.8 383.4 208.2 385.2 210.2 386.4C212.2 387.6 216.4 388.1 217.7 388.5" stroke-width="1.25"/>
<path d="M134 388.6C136.7 388.6 141.7 388.4 150 388.3C158.3 388.2 172.4 388.2 183.6 388.2C194.8 388.2 208.7 388.2 217 388.3C225.3 388.4 230.5 388.6 233.2 388.6" stroke-width="1.0"/></g>
<g transform="matrix(0.9538 0 0 0.9819 855.2 363.1)"><path d="M300.4 311.4C303.1 311.6 310.4 312 316.7 312.4C323 312.8 333.3 312.8 338.4 313.5C343.5 314.2 345.2 315.2 347.1 316.6C349 318 349.6 319.9 349.8 321.7C350 323.4 349.6 324.8 348.2 327.1C346.8 329.5 344 332.4 341.7 335.8C339.4 339.2 336.3 343.6 334.1 347.8C331.9 352 330 356.5 328.7 360.8C327.4 365.1 326.7 370.2 326.5 373.8C326.3 377.4 326.5 380.1 327.6 382.5C328.7 384.9 330.6 386.4 333 387.9C335.4 389.4 339.2 390.1 342.2 391.3C345.2 392.5 348 393.7 351 395C354 396.3 356.4 397.9 360.1 399.1C363.8 400.3 368.5 402 373.3 402.2C378.1 402.4 383.7 400.9 388.9 400.2C394.1 399.4 398.6 398.8 404.4 397.7C410.2 396.6 419 394 423.9 393.4C428.8 392.8 431.4 393.4 434 393.8C436.6 394.2 438.5 395.6 439.4 396" stroke-width="1.5"/>
<path d="M301.2 312.6C303.8 312.8 310.5 313.3 316.6 313.6C322.8 313.9 333.3 314 338.2 314.7C343.2 315.4 344.7 316.4 346.4 317.6C348.1 318.8 348.5 320.3 348.6 321.8C348.7 323.3 348.5 324.3 347.2 326.5C345.8 328.7 343.1 331.7 340.7 335.1C338.4 338.6 335.2 343 333 347.2C330.8 351.5 328.8 356 327.5 360.5C326.3 364.9 325.5 370 325.3 373.7C325.1 377.5 325.3 380.5 326.5 383C327.7 385.5 329.8 387.4 332.4 388.9C334.9 390.5 340.2 391.8 341.8 392.4" stroke-width="0.95"/>
<path d="M341.4 389.2C346.1 389.2 359.6 389.5 369.4 389.4C379.2 389.3 392.2 389 400 388.8C407.8 388.6 411.5 388.1 416.1 388.3C420.7 388.5 424.7 389.4 427.8 390.2C430.9 391 433.1 392 435 393C436.9 394 438.7 395.5 439.4 396" stroke-width="1.05"/>
<path d="M437.5 394.8L439.8 396.4" stroke-width="2.2"/>
<path d="M314.5 313.4C315.7 314.5 319.8 317.4 321.5 320C323.2 322.6 324.2 326.2 325 329C325.8 331.8 326.3 334.7 326.5 337C326.7 339.3 326.3 342 326.3 343" stroke-width="0.9"/>
<path d="M326.4 372L326.3 350L326.1 345C325.9 343.3 324.8 342.3 323.4 342.3C321.8 342.3 320.7 343.6 320.9 345.6C320.8 346.3 320.7 347.5 320.6 350C320.5 352.5 320.5 356.5 320.4 360.8C320.3 365.1 320.1 371.6 320.2 376C320.3 380.4 319.5 383.8 320.8 387C322.1 390.2 325.4 393.3 327.9 395.2C330.4 397.1 333.2 397.6 335.8 398.1C338.4 398.7 342.4 398.4 343.7 398.5L343.7 394.5" stroke-width="1.0"/></g>
<path d="M964 745.8C963.4 745.9 961.5 746 960.6 746.6C959.7 747.2 959.1 748.1 958.6 749.2C958.1 750.3 957.8 751.8 957.5 753.2C957.2 754.6 956.8 757 956.9 757.8C957 758.5 957.5 758.3 958.4 757.7C959.2 757.1 960.4 755.7 962 754.4C963.6 753.1 967.2 750.6 968.2 749.8" stroke-width="1.35"/>
<path d="M1063.6 745.8C1064.2 745.9 1066.1 746 1067 746.6C1067.9 747.2 1068.5 748.1 1069 749.2C1069.5 750.3 1069.8 751.8 1070.1 753.2C1070.4 754.6 1070.8 757 1070.7 757.8C1070.5 758.5 1070 758.3 1069.2 757.7C1068.3 757.1 1067.2 755.7 1065.6 754.4C1064 753.1 1060.4 750.6 1059.4 749.8" stroke-width="1.35"/>
<path d="M968.2 749.8C971.8 750.3 982.4 752 990 752.6C997.6 753.2 1006 753.6 1013.8 753.6C1021.6 753.6 1029.4 753.2 1037 752.6C1044.6 752 1055.7 750.3 1059.4 749.8" stroke-width="1.3"/>
<path d="M1001.3 754L1004.5 757.5H1024.3L1025.8 754" stroke-width="1.0"/>
<path d="M1007.3 757.9V761C1007.3 762 1008 762.4 1009 762.4H1019C1020 762.4 1020.7 762 1020.7 761V757.9" stroke-width="1.2"/>
<path d="M1012.5 760.3H1015.5" stroke-width="1.0"/>
<path d="M1010 762.4V788.7M1017.5 762.4V788.7M1010 769.8H1017.5" stroke-width="1.0"/>
<rect x="1007.3" y="788.7" width="12.5" height="21.7" rx="0.4" stroke-width="1.05"/>
<path d="M1001.3 755.1H985C982 755.1 980.2 756.8 980 759.5L978.8 769.3C978.6 770.6 978 771.2 977 771.2H965C963.8 771.2 963.3 772 963.5 772.8C963.7 773.5 964.4 773.8 965.3 773.8H977.5C979.8 773.8 980.9 772.5 981.1 770.5L982 760C982.2 757.8 983.2 756.9 985 756.9H1001.5" stroke-width="1.05"/>
<path d="M1007 810.6L941.2 834.3" stroke-width="2.0"/>
<path d="M941.2 834.3V838.5H945.1L1007.7 824.4" stroke-width="1.1"/>
<path d="M944.4 836V839.5" stroke-width="0.8"/>
<path d="M1007.7 823.7L967.9 833.4V839L969.2 838.8L1007.7 826" stroke-width="1.0"/>
<path d="M1007.7 824.8L969 834.6" stroke-width="0.7"/>
<path d="M1009.6 811.6L1012.2 834" stroke-width="1.3"/>
<circle cx="940.2" cy="849" r="6.3" stroke-width="1.4"/>
<path d="M938.6 843.3A5.6 5.8 0 0 0 938.6 854.7" stroke-width="0.9"/>
<path d="M941.2 839H946.4L946 842.6H941.6Z" fill="#111" stroke="none"/>
<ellipse cx="964.3" cy="849" rx="4.1" ry="6" stroke-width="1.25"/>
<ellipse cx="972.2" cy="849" rx="3.6" ry="6" stroke-width="1.0"/>
<path d="M969.6 844.5V853.5M971.4 844.5V853.5" stroke-width="0.8"/>
<path d="M968.2 839.5H973.6V842.5H968.2Z" fill="#111" stroke="none"/>
<path d="M1020.6 810.6L1086.4 834.3" stroke-width="2.0"/>
<path d="M1086.4 834.3V838.5H1082.5L1019.9 824.4" stroke-width="1.1"/>
<path d="M1083.2 836V839.5" stroke-width="0.8"/>
<path d="M1019.9 823.7L1059.7 833.4V839L1058.4 838.8L1019.9 826" stroke-width="1.0"/>
<path d="M1019.9 824.8L1058.6 834.6" stroke-width="0.7"/>
<path d="M1018 811.6L1015.4 834" stroke-width="1.3"/>
<circle cx="1087.4" cy="849" r="6.3" stroke-width="1.4"/>
<path d="M1089 843.3A5.6 5.8 0 0 1 1089 854.7" stroke-width="0.9"/>
<path d="M1086.4 839H1081.2L1081.6 842.6H1086Z" fill="#111" stroke="none"/>
<ellipse cx="1063.3" cy="849" rx="4.1" ry="6" stroke-width="1.25"/>
<ellipse cx="1055.4" cy="849" rx="3.6" ry="6" stroke-width="1.0"/>
<path d="M1058 844.5V853.5M1056.2 844.5V853.5" stroke-width="0.8"/>
<path d="M1059.4 839.5H1054V842.5H1059.4Z" fill="#111" stroke="none"/>
<path d="M1008 810.4H1019.6" stroke-width="1.0"/>
<rect x="1011.5" y="834" width="4.5" height="8.2" rx="0.3" stroke-width="1.0"/>
<rect x="1007.4" y="843.3" width="4.5" height="12" rx="2" stroke-width="1.4"/>
<rect x="1015.7" y="843.3" width="4.5" height="12" rx="2" stroke-width="1.4"/>
<path d="M1011.9 841.8V851.5H1015.7V841.8" stroke-width="1.1"/>
<path d="M1011.9 841.8H1015.7V845.4L1013.8 847L1011.9 845.4Z" fill="#111" stroke="none"/>
<rect x="1204.1" y="758.3" width="12.6" height="4.3" rx="0.6" stroke-width="1.1"/>
<path d="M1217.1 759.5L1229 771M1217.1 761.9L1226.5 770.6" stroke-width="1.0"/>
<rect x="1225.4" y="769.8" width="8.3" height="3.5" rx="0.6" stroke-width="1.1"/>
<path d="M1207.3 762.6V788.7M1214.8 762.6V788.7" stroke-width="1.05"/>
<rect x="1204.5" y="788.7" width="12.6" height="20.9" rx="0.4" stroke-width="1.05"/>
<path d="M1202.8 811L1148.7 834.4" stroke-width="2.0"/>
<path d="M1203 813L1150 836" stroke-width="0.8"/>
<path d="M1148.7 834.4V840.3H1153.8V836.5M1153.8 839L1202.8 824.3" stroke-width="1.1"/>
<path d="M1202.8 811H1211.1L1211.1 824.3H1202.8Z" stroke-width="1.05"/>
<rect x="1206" y="824.3" width="9.7" height="9.2" rx="0.3" stroke-width="1.05"/>
<path d="M1217.5 809.8L1236.3 834.8V841.2H1231.7V838.5L1212 824.7" stroke-width="1.25"/>
<path d="M1211.1 811.5L1232 834.8" stroke-width="0.9"/>
<path d="M1217.5 810L1287.2 834.8" stroke-width="1.9"/>
<path d="M1287.2 834.8V841H1283.5V838.5L1232.2 826.6" stroke-width="1.1"/>
<path d="M1148.7 840.3H1153.8L1153.2 843H1149.3Z" fill="#111" stroke="none"/>
<circle cx="1150.8" cy="848.8" r="6.3" stroke-width="1.4"/>
<path d="M1146 842.8C1141 844 1140.5 853.5 1146 855" stroke-width="1.1"/>
<path d="M1231.7 841H1236.3L1236 843H1232Z" fill="#111" stroke="none"/>
<ellipse cx="1230.8" cy="849" rx="3.2" ry="6.3" stroke-width="1.25"/>
<ellipse cx="1238.4" cy="849" rx="3.4" ry="6.3" stroke-width="1.25"/>
<path d="M1234 844V846.5H1235.2" stroke-width="0.9"/>
<path d="M1283.5 841H1287.2L1287 843H1283.8Z" fill="#111" stroke="none"/>
<circle cx="1288.7" cy="849" r="6.2" stroke-width="1.4"/>
</svg>
</body></html>
